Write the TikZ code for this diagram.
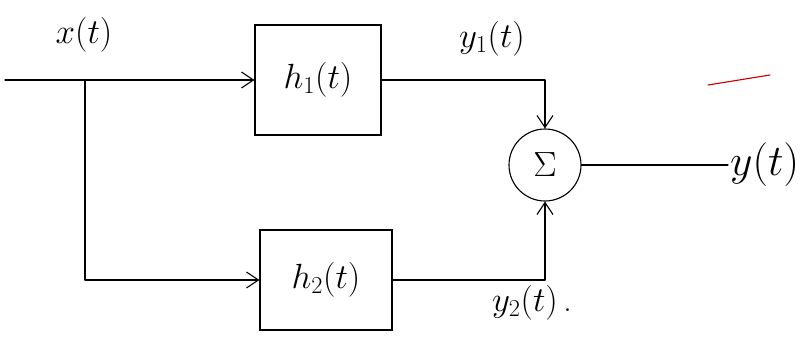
\documentclass[tikz,border=0pt]{standalone}
\usepackage{amsmath,amssymb}
\usetikzlibrary{arrows.meta,positioning}
\begin{document}
\begin{tikzpicture}[x=1cm,y=1cm]
\tikzset{
  blocknode/.style={rectangle,draw=black,line width=0.8pt,inner sep=2pt,font=\fontsize{24}{28}\selectfont},
  sumnode/.style={circle,draw=black,line width=0.8pt,minimum size=18mm,inner sep=0pt,font=\fontsize{24}{28}\selectfont},
  signaledge/.style={draw=black,line width=0.8pt,line cap=round,line join=round},
  directed/.style={signaledge,-{Straight Barb[length=3mm,width=4mm]}},
  undirected/.style={signaledge},
  signallabel/.style={font=\fontsize{24}{28}\selectfont,inner sep=1pt}
}
\useasboundingbox (0,0) rectangle (20.15,8.475);
\node[blocknode,minimum width=3.15cm,minimum height=2.75cm] (n_h1) at (7.95,6.475) {$h_{1}(t)$};
\node[blocknode,minimum width=3.3cm,minimum height=2.5cm] (n_h2) at (8.15,1.475) {$h_{2}(t)$};
\node[sumnode] (n_sum) at (13.625,4.35) {$\Sigma$};
\coordinate (n_in) at (0.125,6.475);
\coordinate (n_br) at (2.125,6.475);
\coordinate (n_out) at (18.2,4.35);
\node[signallabel] (n_x) at (2.1,7.6) {$x(t)$};
\node[signallabel] (n_y1) at (12.3,7.5) {$y_{1}(t)$};
\node[signallabel] (n_y2) at (13.3,0.9) {$y_{2}(t)$\,.};
\node[signallabel,scale=1.25,anchor=west] (n_y) at (n_out) {$y(t)$};
\draw[directed] (n_in) -- (n_h1);
\draw[directed] (n_br) |- (n_h2);
\draw[directed] (n_h1) -| (n_sum);
\draw[directed] (n_h2) -| (n_sum);
\draw[undirected] (n_sum) -- (n_out);
\draw[red!80!black,line width=0.8pt,line cap=round] (17.7,6.35) -- (19.25,6.6);
\end{tikzpicture}
\end{document}
